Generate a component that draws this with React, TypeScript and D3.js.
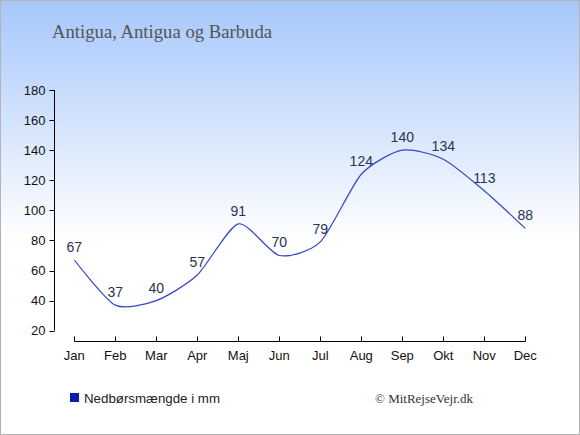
import React, { useRef, useEffect } from "react";
import * as d3 from "d3";

const months = ["Jan", "Feb", "Mar", "Apr", "Maj", "Jun", "Jul", "Aug", "Sep", "Okt", "Nov", "Dec"];
const rainfall = [67, 37, 40, 57, 91, 70, 79, 124, 140, 134, 113, 88];
const yTicks = [20, 40, 60, 80, 100, 120, 140, 160, 180];

const W = 580;
const H = 435;

const App: React.FC = () => {
  const ref = useRef<SVGSVGElement | null>(null);

  useEffect(() => {
    const svg = d3.select(ref.current);
    svg.selectAll("*").remove();

    // background gradient
    const defs = svg.append("defs");
    const grad = defs
      .append("linearGradient")
      .attr("id", "bg")
      .attr("x1", 0)
      .attr("y1", 0)
      .attr("x2", 0)
      .attr("y2", 1);
    grad.append("stop").attr("offset", "0%").attr("stop-color", "#a6c7fb");
    grad.append("stop").attr("offset", "55%").attr("stop-color", "#ffffff");
    grad.append("stop").attr("offset", "100%").attr("stop-color", "#ffffff");

    svg
      .append("rect")
      .attr("x", 0.5)
      .attr("y", 0.5)
      .attr("width", W - 1)
      .attr("height", H - 1)
      .attr("fill", "url(#bg)")
      .attr("stroke", "#b4b4b4");

    svg
      .append("text")
      .attr("x", 52)
      .attr("y", 38)
      .attr("font-family", "'Liberation Serif', 'DejaVu Serif', serif")
      .attr("font-size", 18.7)
      .attr("fill", "#555")
      .text("Antigua, Antigua og Barbuda");

    const x = d3.scalePoint<string>().domain(months).range([74.3, 525.3]);
    const y = d3.scaleLinear().domain([20, 180]).range([330.7, 90]);

    // y axis
    const ya = svg.append("g").attr("transform", "translate(54.5,0)");
    ya.append("line").attr("y1", y(180)).attr("y2", y(20)).attr("stroke", "#000");
    yTicks.forEach((t) => {
      ya.append("line")
        .attr("x1", -5)
        .attr("x2", 0)
        .attr("y1", Math.round(y(t)) + 0.5)
        .attr("y2", Math.round(y(t)) + 0.5)
        .attr("stroke", "#000");
      ya.append("text")
        .attr("x", -9)
        .attr("y", y(t) + 4.5)
        .attr("text-anchor", "end")
        .attr("font-family", "'Liberation Sans', Arial, sans-serif")
        .attr("font-size", 13)
        .attr("fill", "#111")
        .text(t);
    });

    // x axis
    const xa = svg.append("g").attr("transform", "translate(0,341.5)");
    xa.append("line")
      .attr("x1", x("Jan")!)
      .attr("x2", x("Dec")!)
      .attr("stroke", "#000");
    months.forEach((m) => {
      xa.append("line")
        .attr("x1", Math.round(x(m)!) + 0.5)
        .attr("x2", Math.round(x(m)!) + 0.5)
        .attr("y1", -5)
        .attr("y2", 0)
        .attr("stroke", "#000");
      xa.append("text")
        .attr("x", x(m)!)
        .attr("y", 18)
        .attr("text-anchor", "middle")
        .attr("font-family", "'Liberation Sans', Arial, sans-serif")
        .attr("font-size", 13)
        .attr("fill", "#111")
        .text(m);
    });

    // line
    const line = d3
      .line<number>()
      .x((_, i) => x(months[i])!)
      .y((d) => y(d))
      .curve(d3.curveCardinal.tension(0.3));

    svg
      .append("path")
      .datum(rainfall)
      .attr("fill", "none")
      .attr("stroke", "#3344cc")
      .attr("stroke-width", 1.2)
      .attr("d", line);

    // value labels
    svg
      .append("g")
      .selectAll("text")
      .data(rainfall)
      .join("text")
      .attr("x", (_, i) => x(months[i])!)
      .attr("y", (d) => y(d) - 8)
      .attr("text-anchor", "middle")
      .attr("font-family", "'Liberation Sans', Arial, sans-serif")
      .attr("font-size", 14)
      .attr("fill", "#263552")
      .text((d) => d);

    // legend
    svg
      .append("rect")
      .attr("x", 70)
      .attr("y", 393)
      .attr("width", 9)
      .attr("height", 9)
      .attr("fill", "#0a1fa8");
    svg
      .append("text")
      .attr("x", 84)
      .attr("y", 403)
      .attr("font-family", "'Liberation Sans', Arial, sans-serif")
      .attr("font-size", 13.3)
      .attr("fill", "#222")
      .text("Nedbørsmængde i mm");

    svg
      .append("text")
      .attr("x", 473)
      .attr("y", 403)
      .attr("text-anchor", "end")
      .attr("font-family", "'Liberation Serif', 'DejaVu Serif', serif")
      .attr("font-size", 13)
      .attr("fill", "#333")
      .text("© MitRejseVejr.dk");
  }, []);

  return <svg ref={ref} width={W} height={H} style={{ display: "block", position: "absolute", left: 0, top: 0 }} />;
};

export default App;
